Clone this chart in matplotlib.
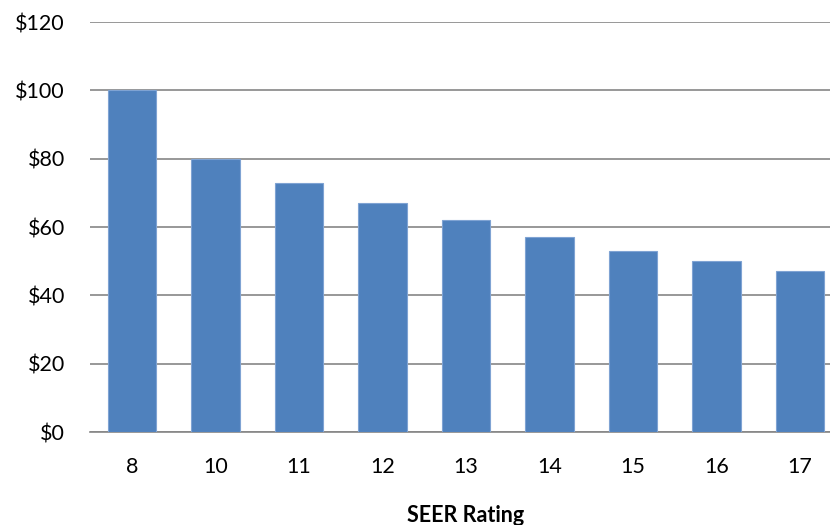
import numpy as np
import matplotlib
matplotlib.use("Agg")
import matplotlib.pyplot as plt
from matplotlib.ticker import FuncFormatter

# values
seer = ["8", "10", "11", "12", "13", "14", "15", "16", "17"]
cost = [100, 80, 73, 67, 62, 57, 53, 50, 47]
yticks = [0, 20, 40, 60, 80, 100, 120]

plt.rcParams['font.family'] = ['Lato', 'DejaVu Sans']

fig = plt.figure(figsize=(8.3, 5.25), dpi=100)
ax = fig.add_axes([0.1084, 0.177, 0.906, 0.781])

x = np.arange(len(seer))
ax.bar(x, cost, width=0.58, color="#4F81BD", edgecolor="#7FA3D3", linewidth=0.8, zorder=3)

ax.set_xlim(-0.5, len(seer) - 0.5)
ax.set_ylim(0, 120)
ax.set_yticks(yticks)
ax.yaxis.set_major_formatter(FuncFormatter(lambda v, pos: "$%d" % v))
ax.set_xticks(x)
ax.set_xticklabels(seer)
ax.grid(axis="y", color="#868686", linewidth=1.2, zorder=0)

for s in ["top", "right", "left"]:
    ax.spines[s].set_visible(False)
ax.spines["bottom"].set_color("#868686")
ax.spines["bottom"].set_linewidth(1.2)
ax.tick_params(length=0, labelsize=15.5, colors="black")
ax.tick_params(axis="y", pad=18)
ax.tick_params(axis="x", pad=18)

ax.set_xlabel("SEER Rating", fontsize=15.5, fontweight="bold", labelpad=20)

fig.savefig("out.png", dpi=100)
